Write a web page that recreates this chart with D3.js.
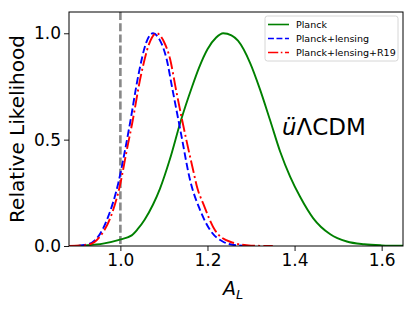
<!DOCTYPE html>
<html>
<head>
<meta charset="utf-8">
<script src="https://cdn.jsdelivr.net/npm/d3@7"></script>
<style>
  body { margin: 0; background: #fff; }
  text { font-family: "DejaVu Sans", sans-serif; }
</style>
</head>
<body>
<div id="chart"></div>
<script>
// values: [A_L, relative likelihood]
var planck = [[0.88,0],[0.92,0.003],[0.96,0.011],[0.995,0.028],[1.026,0.05],[1.04,0.08],[1.056,0.125],
  [1.075,0.195],[1.091,0.27],[1.114,0.41],[1.139,0.59],[1.164,0.745],[1.18,0.835],[1.20,0.925],
  [1.22,0.98],[1.236,1.0],[1.255,0.99],[1.27,0.965],[1.298,0.86],[1.32,0.74],[1.344,0.59],
  [1.367,0.443],[1.39,0.325],[1.413,0.23],[1.443,0.13],[1.482,0.055],[1.52,0.021],[1.56,0.008],
  [1.60,0.003],[1.65,0.001]];

var planckLensing = [[0.88,0],[0.90,0.001],[0.926,0.008],[0.949,0.044],[0.972,0.138],[0.995,0.294],
  [1.010,0.443],[1.022,0.576],[1.041,0.80],[1.06,0.96],[1.075,1.0],[1.09,0.97],[1.106,0.88],
  [1.120,0.732],[1.131,0.616],[1.140,0.52],[1.160,0.31],[1.183,0.169],[1.206,0.075],
  [1.236,0.02],[1.267,0.003],[1.30,0]];

var planckLensingR19 = [[0.88,0],[0.90,0.001],[0.93,0.008],[0.953,0.044],[0.978,0.138],[1.0,0.294],
  [1.014,0.443],[1.027,0.576],[1.047,0.80],[1.066,0.95],[1.083,1.0],[1.10,0.96],[1.114,0.88],
  [1.128,0.732],[1.142,0.59],[1.167,0.357],[1.177,0.27],[1.190,0.2],[1.217,0.075],
  [1.252,0.02],[1.30,0.002],[1.35,0]];

var xTicks = [1.0, 1.2, 1.4, 1.6];
var yTicks = [0.0, 0.5, 1.0];
var refLine = 1.0;

var series = [
  {name: "Planck", data: planck, color: "green", dash: null},
  {name: "Planck+lensing", data: planckLensing, color: "blue", dash: "7.4,3.2"},
  {name: "Planck+lensing+R19", data: planckLensingR19, color: "red", dash: "12.8,3.2,2,3.2"}
];

var width = 415, height = 309;
var svg = d3.select("#chart").append("svg")
  .attr("width", width)
  .attr("height", height);

var pLeft = 69, pRight = 403, pTop = 12, pBottom = 246;

var x = d3.scaleLinear().domain([0.882, 1.649]).range([pLeft, pRight]);
var y = d3.scaleLinear().domain([0, 1.1]).range([pBottom, pTop]);

svg.append("clipPath").attr("id", "clip")
  .append("rect")
  .attr("x", pLeft).attr("y", pTop)
  .attr("width", pRight - pLeft).attr("height", pBottom - pTop);

var plot = svg.append("g").attr("clip-path", "url(#clip)");

// vertical reference line at A_L = 1
plot.append("line")
  .attr("x1", x(refLine)).attr("x2", x(refLine))
  .attr("y1", pTop).attr("y2", pBottom)
  .attr("stroke", "#888")
  .attr("stroke-width", 2.6)
  .attr("stroke-dasharray", "8,3.2");

var line = d3.line()
  .x(function(d) { return x(d[0]); })
  .y(function(d) { return y(d[1]); })
  .curve(d3.curveMonotoneX);

plot.selectAll(".curve")
  .data(series)
  .enter()
  .append("path")
  .attr("class", "curve")
  .attr("d", function(d) { return line(d.data); })
  .attr("fill", "none")
  .attr("stroke", function(d) { return d.color; })
  .attr("stroke-width", 1.9)
  .attr("stroke-dasharray", function(d) { return d.dash; });

// axes
var xAxis = svg.append("g")
  .attr("transform", "translate(0," + pBottom + ")")
  .call(d3.axisBottom(x).tickValues(xTicks).tickFormat(d3.format(".1f")).tickSize(5).tickPadding(3));
var yAxis = svg.append("g")
  .attr("transform", "translate(" + pLeft + ",0)")
  .call(d3.axisLeft(y).tickValues(yTicks).tickFormat(d3.format(".1f")).tickSize(5).tickPadding(3));

[xAxis, yAxis].forEach(function(a) {
  a.select(".domain").remove();
  a.selectAll("text")
    .attr("fill", "#000")
    .style("font-family", "DejaVu Sans")
    .style("font-size", "17px");
  a.selectAll("line").attr("stroke", "#000").attr("stroke-width", 0.9);
});

// frame
svg.append("rect")
  .attr("x", pLeft).attr("y", pTop)
  .attr("width", pRight - pLeft).attr("height", pBottom - pTop)
  .attr("fill", "none")
  .attr("stroke", "#000")
  .attr("stroke-width", 1);

// axis labels
svg.append("text")
  .attr("transform", "translate(24," + (pTop + pBottom) / 2 + ") rotate(-90)")
  .attr("text-anchor", "middle")
  .style("font-size", "20px")
  .text("Relative Likelihood");

var xl = svg.append("text")
  .attr("x", 223).attr("y", 295)
  .style("font-size", "19px");
xl.append("tspan").style("font-style", "italic").text("A");
xl.append("tspan").attr("dy", 4).style("font-style", "italic").style("font-size", "13px").text("L");

// model label
var ml = svg.append("text")
  .attr("x", 282).attr("y", 135)
  .style("font-size", "23px");
ml.append("tspan").style("font-style", "italic").text("ü");
ml.append("tspan").text("ΛCDM");

// legend
var lg = svg.append("g").attr("transform", "translate(265,16)");
lg.append("rect")
  .attr("width", 133).attr("height", 45)
  .attr("rx", 2.5)
  .attr("fill", "#fff").attr("fill-opacity", 0.8)
  .attr("stroke", "#ccc").attr("stroke-width", 0.8);

var item = lg.selectAll(".item")
  .data(series)
  .enter()
  .append("g")
  .attr("class", "item")
  .attr("transform", function(d, i) { return "translate(0," + (8.5 + i * 14) + ")"; });

item.append("line")
  .attr("x1", 3).attr("x2", 24)
  .attr("stroke", function(d) { return d.color; })
  .attr("stroke-width", 1.6)
  .attr("stroke-dasharray", function(d) { return d.dash ? d.dash.split(",").map(function(v) { return v * 0.8; }).join(",") : null; });

item.append("text")
  .attr("x", 31).attr("y", 3.5)
  .style("font-size", "9.5px")
  .text(function(d) { return d.name; });
</script>
</body>
</html>
